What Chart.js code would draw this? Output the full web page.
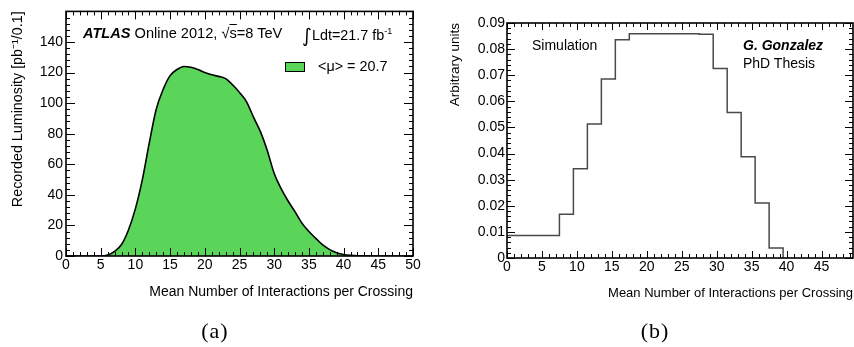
<!DOCTYPE html>
<html>
<head>
<meta charset="utf-8">
<script src="https://cdn.jsdelivr.net/npm/chart.js@4.4.1/dist/chart.umd.min.js"></script>
<style>
  body { margin: 0; background: #fff; }
  #wrap { position: relative; width: 854px; height: 347px; overflow: hidden; background: #fff;
          font-family: "Liberation Sans", Arial, sans-serif; color: #000; }
  canvas { position: absolute; top: 0; }
  .txt { position: absolute; font-size: 14px; line-height: 16px; white-space: nowrap; }
  .cap { position: absolute; width: 60px; text-align: center; font-family: "Liberation Serif", serif;
         font-size: 22px; line-height: 24px; letter-spacing: 1px; }
</style>
</head>
<body>
<div id="wrap">
  <canvas id="lumiChart" width="427" height="347" style="left:0;width:427px;height:347px"></canvas>
  <canvas id="simChart" width="427" height="347" style="left:427px;width:427px;height:347px"></canvas>

  <!-- panel (a) labels -->
  <div class="txt" style="left:83px;top:25px;font-size:14.6px"><b><i>ATLAS</i></b> Online 2012, √<span style="text-decoration:overline">s</span>=8 TeV</div>
  <div class="txt" style="left:302px;top:25px;font-size:14.4px"><span style="font-family:'DejaVu Sans';font-size:19px;position:relative;top:2px">∫</span>Ldt=21.7 fb<span style="font-size:9px;position:relative;top:-6px">-1</span></div>
  <div style="position:absolute;left:285px;top:62px;width:18px;height:8px;background:#5ad55a;border:1px solid #000"></div>
  <div class="txt" style="left:318px;top:58px;font-size:14.4px">&lt;μ&gt; = 20.7</div>
  <div class="cap" style="left:185px;top:319px">(a)</div>

  <!-- panel (b) labels -->
  <div class="txt" style="left:532px;top:37px">Simulation</div>
  <div class="txt" style="left:743px;top:37px"><b><i>G. Gonzalez</i></b></div>
  <div class="txt" style="left:743px;top:55px">PhD Thesis</div>
  <div class="cap" style="left:625px;top:319px">(b)</div>
</div>

<script>
// (a) recorded luminosity vs mean number of interactions
const muPoints = [0, 5, 6, 7, 8, 9, 10, 11, 12, 13, 14, 15, 16, 17, 18, 19, 20, 21, 22, 23, 24, 25,
  26, 27, 28, 29, 30, 31, 32, 33, 34, 35, 36, 37, 38, 39, 40, 41, 42, 45, 50];
const lumiValues = [0, 0, 0.6, 3, 7.5, 17, 31, 50, 74, 96, 109, 118, 122, 124, 123.5, 122, 120, 118.5,
  117.5, 116, 112, 107, 101, 91, 81.5, 69, 54, 44, 36, 29, 21.5, 16, 11.5, 7.2, 4.2, 2.2, 1, 0.4, 0.1, 0, 0];

// (b) simulated mu profile (bin low edges, last entry closes the histogram)
const binEdges = [0, 7.5, 9.5, 11.5, 13.5, 15.5, 17.5, 19.5, 21.5, 23.5, 25.5, 27.5, 29.5, 31.5,
  33.5, 35.5, 37.5, 39.5];
const binValues = [0.0086, 0.0168, 0.0342, 0.0513, 0.0686, 0.0836, 0.0859, 0.0859, 0.0859, 0.0859,
  0.0859, 0.0857, 0.0726, 0.0557, 0.0388, 0.0211, 0.0038, 0];
const xTicksB = [0, 5, 10, 15, 20, 25, 30, 35, 40, 45];

const FONT = "'Liberation Sans', Arial, sans-serif";

// ROOT style frame with inward ticks on all four sides
const rootFrame = {
  id: "rootFrame",
  afterDatasetsDraw(chart, args, o) {
    const { ctx, chartArea: a, scales: { x, y } } = chart;
    ctx.save();
    ctx.strokeStyle = "#000";
    ctx.lineWidth = 1;
    ctx.beginPath();
    const nx = Math.round((x.max - x.min) / o.xMinor);
    for (let i = 0; i <= nx; i++) {
      const v = x.min + i * o.xMinor;
      const px = Math.round(x.getPixelForValue(v)) + 0.5;
      const len = (i % o.xEvery === 0) ? o.major : o.minor;
      ctx.moveTo(px, a.bottom); ctx.lineTo(px, a.bottom - len);
      ctx.moveTo(px, a.top); ctx.lineTo(px, a.top + len);
    }
    const ny = Math.round((y.max - y.min) / o.yMinor);
    for (let i = 0; i <= ny; i++) {
      const v = y.min + i * o.yMinor;
      const py = Math.round(y.getPixelForValue(v)) + 0.5;
      const len = (i % o.yEvery === 0) ? o.major + 1 : o.minor;
      ctx.moveTo(a.left, py); ctx.lineTo(a.left + len, py);
      ctx.moveTo(a.right, py); ctx.lineTo(a.right - len, py);
    }
    ctx.stroke();
    ctx.lineWidth = 1.6;
    ctx.strokeRect(a.left, a.top, a.right - a.left, a.bottom - a.top);
    ctx.restore();
  }
};

new Chart(document.getElementById("lumiChart"), {
  type: "line",
  data: {
    datasets: [{
      data: muPoints.map((m, i) => ({ x: m, y: lumiValues[i] })),
      borderColor: "#000",
      borderWidth: 1.6,
      backgroundColor: "#5ad55a",
      fill: "origin",
      pointRadius: 0,
      cubicInterpolationMode: "monotone"
    }]
  },
  options: {
    responsive: false,
    animation: false,
    layout: { padding: { top: 7, right: 14, left: 0, bottom: 0 } },
    plugins: {
      legend: { display: false },
      tooltip: { enabled: false },
      rootFrame: { xMinor: 1, xEvery: 5, yMinor: 4, yEvery: 5, major: 8, minor: 4 }
    },
    scales: {
      x: {
        type: "linear", min: 0, max: 50,
        grid: { display: false, drawTicks: false },
        border: { display: false },
        ticks: { stepSize: 5, padding: 1, color: "#000", font: { family: FONT, size: 14 } },
        title: { display: true, text: "Mean Number of Interactions per Crossing", align: "end",
                 color: "#000", font: { family: FONT, size: 14 }, padding: { top: 0, bottom: 46 } },
        afterFit(s) { s.height = 91; }
      },
      y: {
        min: 0, max: 160,
        grid: { display: false, drawTicks: false },
        border: { display: false },
        ticks: { stepSize: 20, padding: 3, color: "#000", font: { family: FONT, size: 14 } },
        afterBuildTicks(s) { s.ticks = s.ticks.filter(t => t.value <= 140); },
        title: { display: true, text: "Recorded Luminosity [pb⁻¹/0.1]", align: "end",
                 color: "#000", font: { family: FONT, size: 14.3 }, padding: { top: 9, bottom: 0 } },
        afterFit(s) { s.width = 66; }
      }
    }
  },
  plugins: [rootFrame]
});

new Chart(document.getElementById("simChart"), {
  type: "line",
  data: {
    datasets: [{
      data: binEdges.map((e, i) => ({ x: e, y: binValues[i] })),
      borderColor: "#4a4a4a",
      borderWidth: 1.5,
      fill: false,
      pointRadius: 0,
      stepped: "before"
    }]
  },
  options: {
    responsive: false,
    animation: false,
    layout: { padding: { top: 23, right: 1, left: 0, bottom: 0 } },
    plugins: {
      legend: { display: false },
      tooltip: { enabled: false },
      rootFrame: { xMinor: 1, xEvery: 5, yMinor: 0.002, yEvery: 5, major: 7, minor: 4 }
    },
    scales: {
      x: {
        type: "linear", min: 0, max: 49.5,
        grid: { display: false, drawTicks: false },
        border: { display: false },
        ticks: { padding: 1, color: "#000", font: { family: FONT, size: 14 } },
        afterBuildTicks(s) { s.ticks = xTicksB.map(v => ({ value: v })); },
        title: { display: true, text: "Mean Number of Interactions per Crossing", align: "end",
                 color: "#000", font: { family: FONT, size: 13 }, padding: { top: 0, bottom: 46 } },
        afterFit(s) { s.height = 89; }
      },
      y: {
        min: 0, max: 0.09,
        grid: { display: false, drawTicks: false },
        border: { display: false },
        ticks: { stepSize: 0.01, padding: 2, color: "#000", font: { family: FONT, size: 14 } },
        title: { display: true, text: "Arbitrary units", align: "end",
                 color: "#000", font: { family: FONT, size: 13.5 }, padding: { top: 20, bottom: 0 } },
        afterFit(s) { s.width = 80; }
      }
    }
  },
  plugins: [rootFrame]
});
</script>
</body>
</html>
